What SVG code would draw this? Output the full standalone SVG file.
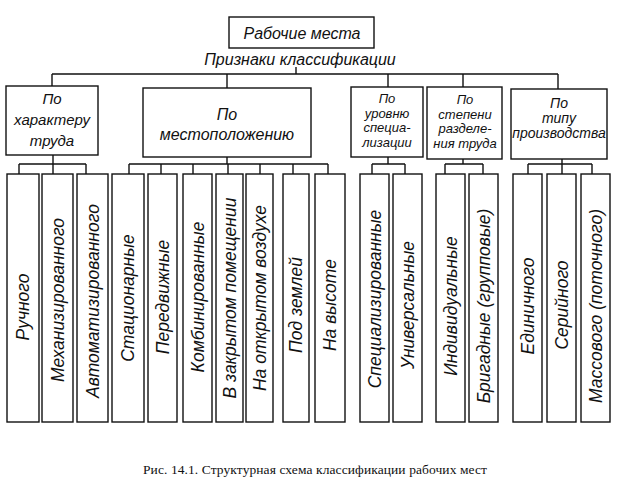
<svg xmlns="http://www.w3.org/2000/svg" width="624" height="497" viewBox="0 0 624 497">
<style>
rect{fill:#fff;stroke:#111;stroke-width:1.4}
.c{fill:none;stroke:#111;stroke-width:1.4}
text{font-family:"Liberation Sans",Arial,sans-serif;font-style:italic;fill:#111;text-anchor:middle}
.h{font-size:16px}
.s{font-size:15px}
.t{font-size:13px}
.u{font-size:14px}
.v{font-size:17.5px;dominant-baseline:central}
.cap{font-family:"Liberation Serif","Times New Roman",serif;font-style:normal;font-size:13.5px}
</style>
<rect x="0" y="0" width="624" height="497" style="fill:#fff;stroke:none"/>
<g id="connectors">
<path class="c" d="M296,67V74M52,74H558M52,74V86M227,74V88M388,74V87M463,74V87M558,74V89"/>
<path class="c" d="M53,155V164M19,164H86M19,164V174M53,164V174M86,164V174"/>
<path class="c" d="M227,157V164M129,164H328M129,164V174M161,164V174M193,164V174M228,164V174M260,164V174M293,164V174M328,164V174"/>
<path class="c" d="M388,157V164M372,164H405M372,164V174M405,164V174"/>
<path class="c" d="M463,159V164M445,164H483M445,164V174M483,164V174"/>
<path class="c" d="M562,159V164M528,164H592M528,164V174M562,164V174M592,164V174"/>
</g>
<g id="root">
<rect x="229" y="17" width="145" height="31"/>
<text class="h" x="302" y="39">Рабочие места</text>
</g>
<g id="criteria">
<text class="h" x="300" y="65">Признаки классификации</text>
</g>
<g id="cat1">
<rect x="6" y="86" width="92" height="69"/>
<text class="s" x="52" y="104">По</text>
<text class="s" x="52" y="125">характеру</text>
<text class="s" x="52" y="146">труда</text>
</g>
<g id="cat2">
<rect x="143" y="88" width="168" height="69"/>
<text class="h" x="227" y="120">По</text>
<text class="h" x="227" y="140">местоположению</text>
</g>
<g id="cat3">
<rect x="351" y="87" width="72" height="70"/>
<text class="t" x="387" y="103">По</text>
<text class="t" x="387" y="117.5">уровню</text>
<text class="t" x="387" y="132">специа-</text>
<text class="t" x="387" y="146.5">лизации</text>
</g>
<g id="cat4">
<rect x="427" y="87" width="75" height="72"/>
<text class="t" x="465" y="104">По</text>
<text class="t" x="465" y="118.5">степени</text>
<text class="t" x="465" y="133">разделе-</text>
<text class="t" x="465" y="147.5">ния труда</text>
</g>
<g id="cat5">
<rect x="511" y="89" width="96" height="70"/>
<text class="u" x="559" y="108">По</text>
<text class="u" x="559" y="123">типу</text>
<text class="u" x="559" y="138">производства</text>
</g>
<g id="l1"><rect x="7" y="174" width="32" height="248"/><text class="v" transform="translate(23,307) rotate(-90)">Ручного</text></g>
<g id="l2"><rect x="42" y="174" width="31" height="248"/><text class="v" transform="translate(57.5,300) rotate(-90)">Механизированного</text></g>
<g id="l3"><rect x="77" y="174" width="31" height="248"/><text class="v" transform="translate(92.5,301) rotate(-90)">Автоматизированного</text></g>
<g id="l4"><rect x="112" y="174" width="32" height="248"/><text class="v" transform="translate(128,298) rotate(-90)">Стационарные</text></g>
<g id="l5"><rect x="148" y="174" width="29" height="248"/><text class="v" transform="translate(162.5,297) rotate(-90)">Передвижные</text></g>
<g id="l6"><rect x="183" y="174" width="29" height="248"/><text class="v" transform="translate(197.5,297) rotate(-90)">Комбинированные</text></g>
<g id="l7"><rect x="216" y="174" width="27" height="248"/><text class="v" transform="translate(229.5,298) rotate(-90)">В закрытом помещении</text></g>
<g id="l8"><rect x="246" y="174" width="27" height="248"/><text class="v" transform="translate(259.5,298) rotate(-90)">На открытом воздухе</text></g>
<g id="l9"><rect x="283" y="174" width="26" height="248"/><text class="v" transform="translate(296,305) rotate(-90)">Под землей</text></g>
<g id="l10"><rect x="315" y="174" width="30" height="248"/><text class="v" transform="translate(330,305) rotate(-90)">На высоте</text></g>
<g id="l11"><rect x="360" y="174" width="29" height="248"/><text class="v" transform="translate(374.5,299) rotate(-90)">Специализированные</text></g>
<g id="l12"><rect x="393" y="174" width="29" height="248"/><text class="v" transform="translate(407.5,305) rotate(-90)">Универсальные</text></g>
<g id="l13"><rect x="436" y="174" width="29" height="248"/><text class="v" transform="translate(450.5,306) rotate(-90)">Индивидуальные</text></g>
<g id="l14"><rect x="469" y="174" width="29" height="248"/><text class="v" transform="translate(483.5,306) rotate(-90)">Бригадные (групповые)</text></g>
<g id="l15"><rect x="513" y="174" width="29" height="248"/><text class="v" transform="translate(527.5,306) rotate(-90)">Единичного</text></g>
<g id="l16"><rect x="547" y="174" width="29" height="248"/><text class="v" transform="translate(561.5,305) rotate(-90)">Серийного</text></g>
<g id="l17"><rect x="581" y="174" width="29" height="248"/><text class="v" transform="translate(595.5,306) rotate(-90)">Массового (поточного)</text></g>
<text class="cap" x="315" y="474" textLength="344">Рис. 14.1. Структурная схема классификации рабочих мест</text>
</svg>
